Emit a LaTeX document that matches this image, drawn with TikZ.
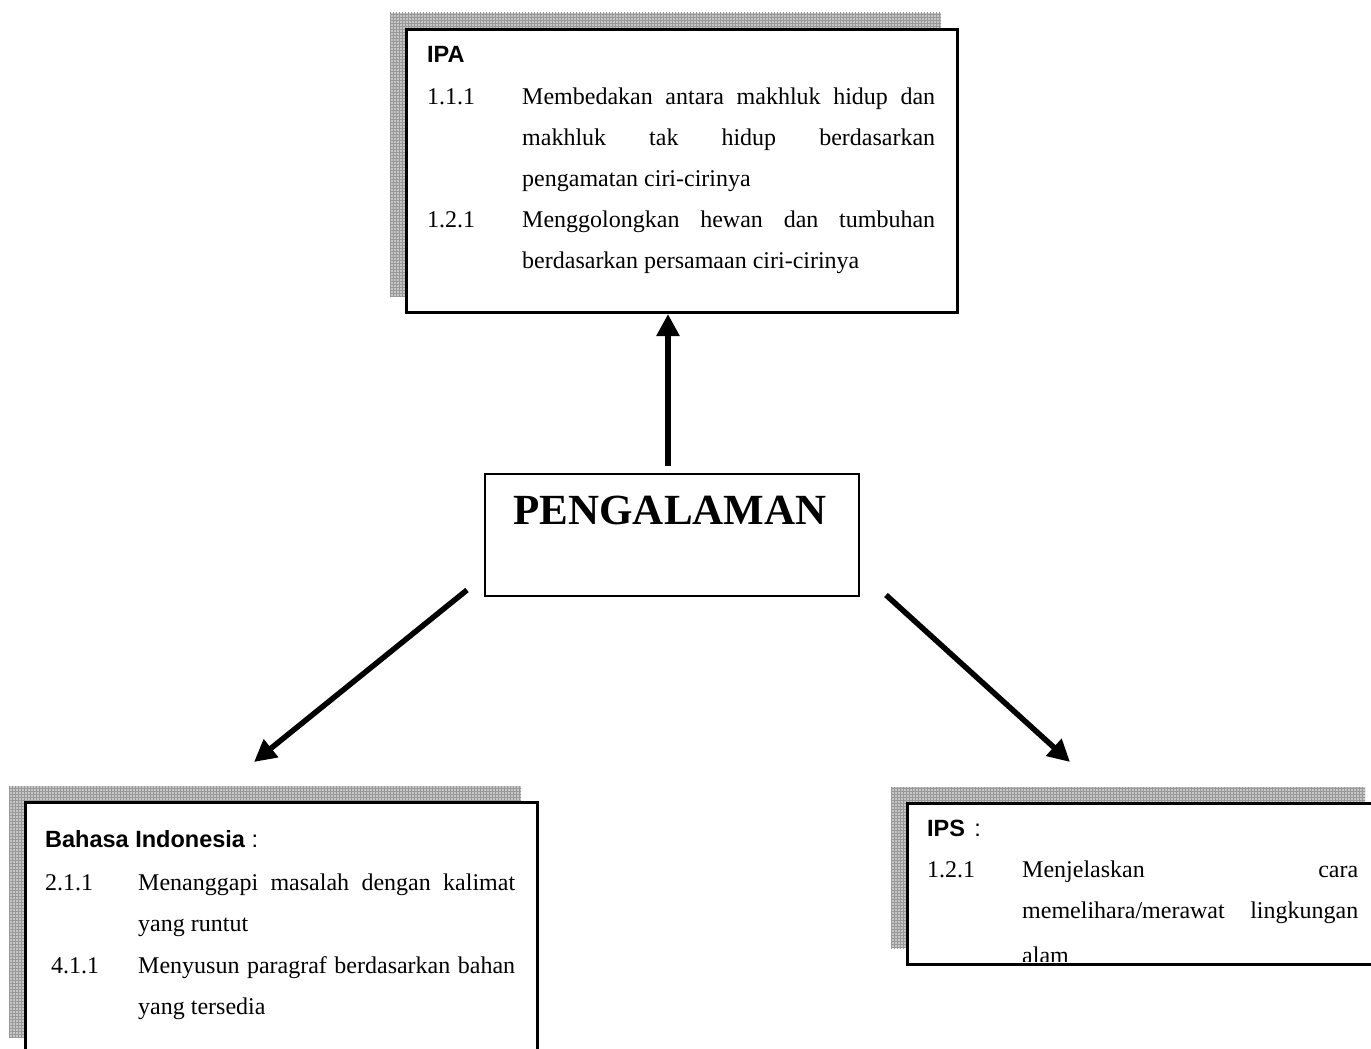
\documentclass[tikz,border=0pt]{standalone}
\usepackage{fontspec}
\setmainfont{Liberation Serif}
\setsansfont{Liberation Sans}
\usetikzlibrary{arrows.meta,patterns}
\begin{document}
\begin{tikzpicture}[x=1pt,y=-1pt,
  shadowfill/.style={fill=gray!45, postaction={pattern=grid, pattern color=gray!80}},
  boxframe/.style={draw=black, line width=3pt, fill=white, inner sep=0pt, anchor=north west},
  thinframe/.style={draw=black, line width=1.6pt, fill=white, inner sep=0pt, anchor=north west},
  txt/.style={anchor=base west, inner sep=0pt, font=\fontsize{24}{28}\selectfont},
  headtxt/.style={anchor=base west, inner sep=0pt, font=\fontsize{23.5}{28}\selectfont\sffamily},
  arr/.style={line width=5.5pt, -{Triangle[length=22pt,width=22pt]}}]
\clip (0,0) rectangle (1371,1049);
\fill[white] (0,0) rectangle (1371,1049);

% ---------- IPA box ----------
\fill[shadowfill] (390,13) rectangle (941,296);
\node[boxframe, minimum width=551pt, minimum height=283pt] (ipa) at (405,28) {};
\node[headtxt] (ipah) at (427,63) {\textbf{IPA}};
\node[txt] (ipan1) at (427,104) {1.1.1};
\node[txt] (ipa1a) at (522,104) {\makebox[413pt][s]{Membedakan antara makhluk hidup dan}};
\node[txt] (ipa1b) at (522,145) {\makebox[413pt][s]{makhluk tak hidup berdasarkan}};
\node[txt] (ipa1c) at (522,186) {pengamatan ciri-cirinya};
\node[txt] (ipan2) at (427,227) {1.2.1};
\node[txt] (ipa2a) at (522,227) {\makebox[413pt][s]{Menggolongkan hewan dan tumbuhan}};
\node[txt] (ipa2b) at (522,268) {berdasarkan persamaan ciri-cirinya};

% ---------- PENGALAMAN box ----------
\node[thinframe, minimum width=374pt, minimum height=122pt] (pg) at (484,473) {};
\node[anchor=base, inner sep=0pt, font=\fontsize{43}{50}\selectfont\bfseries] (pgt) at (670,524) {PENGALAMAN};

% ---------- Bahasa Indonesia box ----------
\fill[shadowfill] (9,786) rectangle (521,1037);
\node[boxframe, minimum width=512pt, minimum height=300pt] (bi) at (24,801) {};
\node[headtxt] (bih) at (45,847) {\textbf{Bahasa Indonesia} :};
\node[txt] (bin1) at (45,890) {2.1.1};
\node[txt] (bi1a) at (138,890) {\makebox[377pt][s]{Menanggapi masalah dengan kalimat}};
\node[txt] (bi1b) at (138,931) {yang runtut};
\node[txt] (bin2) at (51,973) {4.1.1};
\node[txt] (bi2a) at (138,973) {\makebox[377pt][s]{Menyusun paragraf berdasarkan bahan}};
\node[txt] (bi2b) at (138,1014) {yang tersedia};

% ---------- IPS box ----------
\fill[shadowfill] (891,787) rectangle (1365,948);
\node[boxframe, minimum width=520pt, minimum height=161pt] (ips) at (906,802) {};
\begin{scope}
  \clip (907.5,803.5) rectangle (1371,961.5);
  \node[headtxt] (ipsh) at (927,836) {\textbf{IPS}\hspace{0.4em}:};
  \node[txt] (ipsn1) at (927,877) {1.2.1};
  \node[txt] (ips1a) at (1022,877) {\makebox[336pt][s]{Menjelaskan cara}};
  \node[txt] (ips1b) at (1022,918) {\makebox[336pt][s]{memelihara/merawat lingkungan}};
  \node[txt] (ips1c) at (1022,963) {alam};
\end{scope}

% ---------- connectors ----------
\coordinate (upstart) at (668,466);
\coordinate (lstart) at (467,590);
\coordinate (ltip) at (254,762);
\coordinate (rstart) at (886,595);
\coordinate (rtip) at (1070,762);
\draw[arr] (upstart) -- (upstart |- ipa.south);
\draw[arr] (lstart) -- (ltip);
\draw[arr] (rstart) -- (rtip);
\end{tikzpicture}
\end{document}
